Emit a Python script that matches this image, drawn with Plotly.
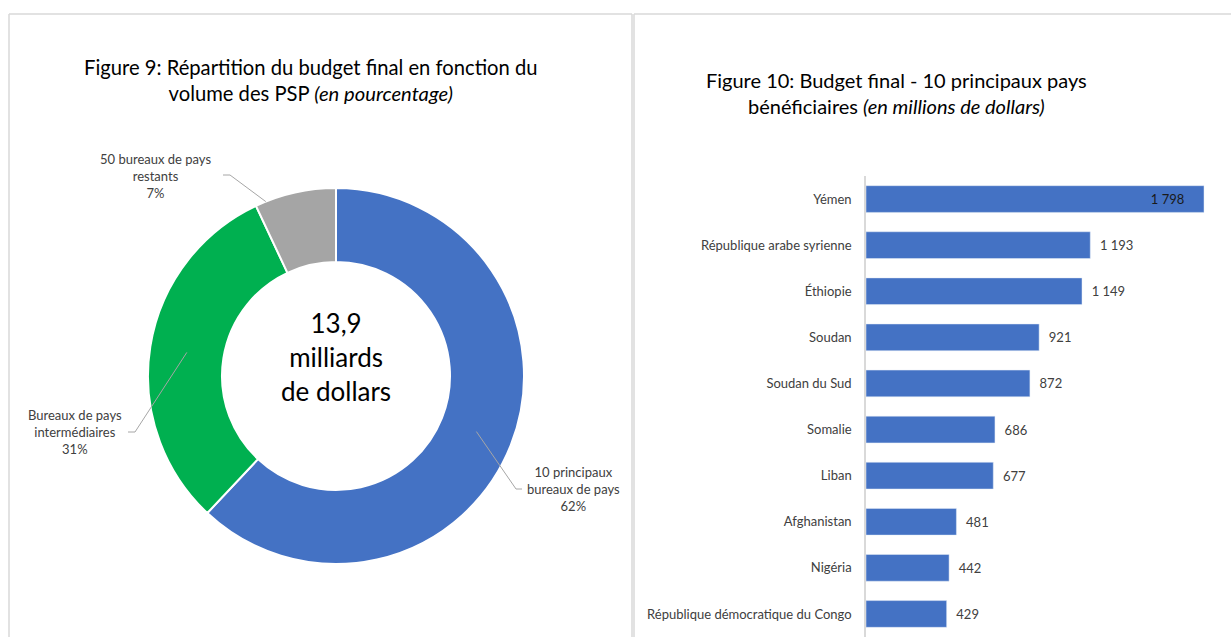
import math
import plotly.graph_objects as go

W, H = 1231, 637

# ---- data ----
pie_labels = ["10 principaux<br>bureaux de pays", "Bureaux de pays<br>intermédiaires", "50 bureaux de pays<br>restants"]
pie_values = [62, 31, 7]
center_text = "13,9<br>milliards<br>de dollars"

countries = ["Yémen", "République arabe syrienne", "Éthiopie", "Soudan", "Soudan du Sud",
             "Somalie", "Liban", "Afghanistan", "Nigéria", "République démocratique du Congo"]
budgets = [1798, 1193, 1149, 921, 872, 686, 677, 481, 442, 429]

title_left = "Figure 9: Répartition du budget final en fonction du<br>volume des PSP <i>(en pourcentage)</i>"
title_right = "Figure 10: Budget final - 10 principaux pays<br>bénéficiaires <i>(en millions de dollars)</i>"

# ---- style ----
FONT = "Lato"
pie_colors = ["#4472C4", "#00B050", "#A5A5A5"]
BAR_COLOR = "#4472C4"
LABEL_COLOR = "#404040"
BORDER = "#D9D9D9"
NB = "\u00a0"


def px(x):
    return x / W


def py(y):
    return 1 - y / H


# pie geometry (pixels)
CX, CY, R_OUT, R_IN = 336, 376, 188, 114

fig = go.Figure()

fig.add_trace(go.Pie(
    values=pie_values, labels=pie_labels, sort=False, direction="clockwise", rotation=0,
    hole=R_IN / R_OUT, textinfo="none", hoverinfo="label+percent", showlegend=False,
    marker=dict(colors=pie_colors, line=dict(color="white", width=2)),
    domain=dict(x=[px(CX - R_OUT), px(CX + R_OUT)], y=[py(CY + R_OUT), py(CY - R_OUT)]),
))

n = len(budgets)
fig.add_trace(go.Bar(
    x=budgets, y=countries, orientation="h", marker=dict(color=BAR_COLOR),
    texttemplate=["%{x:,}" + NB * 5] + [NB * 2 + "%{x:,}"] * (n - 1),
    textposition=["inside"] + ["outside"] * (n - 1),
    insidetextanchor="end", constraintext="none",
    textfont=dict(size=13, family=FONT, color=["#1a1a1a"] + [LABEL_COLOR] * (n - 1)),
    cliponaxis=False, showlegend=False, width=0.58,
))

# leader lines computed from slice positions
total = sum(pie_values)
cum = [sum(pie_values[:i]) / total for i in range(len(pie_values))]
fracs = [v / total for v in pie_values]
anchor_pos = [0.5, 0.5, 0.13]          # position inside slice
anchor_rad = [(R_IN + R_OUT) / 2, (R_IN + R_OUT) / 2, R_OUT]
elbows = [(516, 489), (135, 432), (230, 175)]
ends = [(522, 489), (128, 432), (223, 175)]
label_pos = [(573, 489), (75, 432), (155, 176)]

shapes = []
annotations = []
for i in range(len(pie_values)):
    a = 2 * math.pi * (cum[i] + fracs[i] * anchor_pos[i])
    ax_ = CX + anchor_rad[i] * math.sin(a)
    ay_ = CY - anchor_rad[i] * math.cos(a)
    ex, ey = elbows[i]
    fx, fy = ends[i]
    shapes.append(dict(type="path", xref="paper", yref="paper",
                       path=f"M {px(ax_)},{py(ay_)} L {px(ex)},{py(ey)} L {px(fx)},{py(fy)}",
                       line=dict(color="#A6A6A6", width=1)))
    lx, ly = label_pos[i]
    annotations.append(dict(x=px(lx), y=py(ly), xref="paper", yref="paper", showarrow=False,
                            text=f"{pie_labels[i]}<br>{pie_values[i]}%", align="center",
                            xanchor="center", yanchor="middle",
                            font=dict(size=13, family=FONT, color=LABEL_COLOR)))

annotations.append(dict(x=px(CX), y=py(357), xref="paper", yref="paper", showarrow=False,
                        text=center_text, align="center", xanchor="center", yanchor="middle",
                        font=dict(size=26, family=FONT, color="#000000")))
annotations.append(dict(x=px(311), y=py(80), xref="paper", yref="paper", showarrow=False,
                        text=title_left, align="center", xanchor="center", yanchor="middle",
                        font=dict(size=20.2, family=FONT, color="#000000")))
annotations.append(dict(x=px(896), y=py(93), xref="paper", yref="paper", showarrow=False,
                        text=title_right, align="center", xanchor="center", yanchor="middle",
                        font=dict(size=20, family=FONT, color="#000000")))

# panel borders
for (x0, y0, x1, y1) in [(9, 14, 632, 14), (9, 14, 9, 637), (632, 14, 632, 637),
                         (634, 14, 1231, 14), (634, 14, 634, 637)]:
    shapes.append(dict(type="line", xref="paper", yref="paper",
                       x0=px(x0), y0=py(y0), x1=px(x1), y1=py(y1),
                       line=dict(color=BORDER, width=1.5)))

fig.update_layout(
    width=W, height=H, margin=dict(l=0, r=0, t=0, b=0),
    paper_bgcolor="white", plot_bgcolor="white",
    separators=", ",
    font=dict(family=FONT, color=LABEL_COLOR),
    shapes=shapes, annotations=annotations, bargap=0.42,
    xaxis=dict(domain=[px(866), px(1215)], range=[0, 1798 * (1215 - 866) / 338],
               visible=False, fixedrange=True),
    yaxis=dict(domain=[0, py(176)], autorange="reversed", showline=True, linecolor=BORDER,
               linewidth=1.5, ticks="", showgrid=False, ticklabelstandoff=10,
               tickfont=dict(size=13, family=FONT, color=LABEL_COLOR), fixedrange=True),
)

fig.write_html("out.html", config={"displayModeBar": False},
               post_script="document.body.style.margin='0';document.body.style.overflow='hidden';")
